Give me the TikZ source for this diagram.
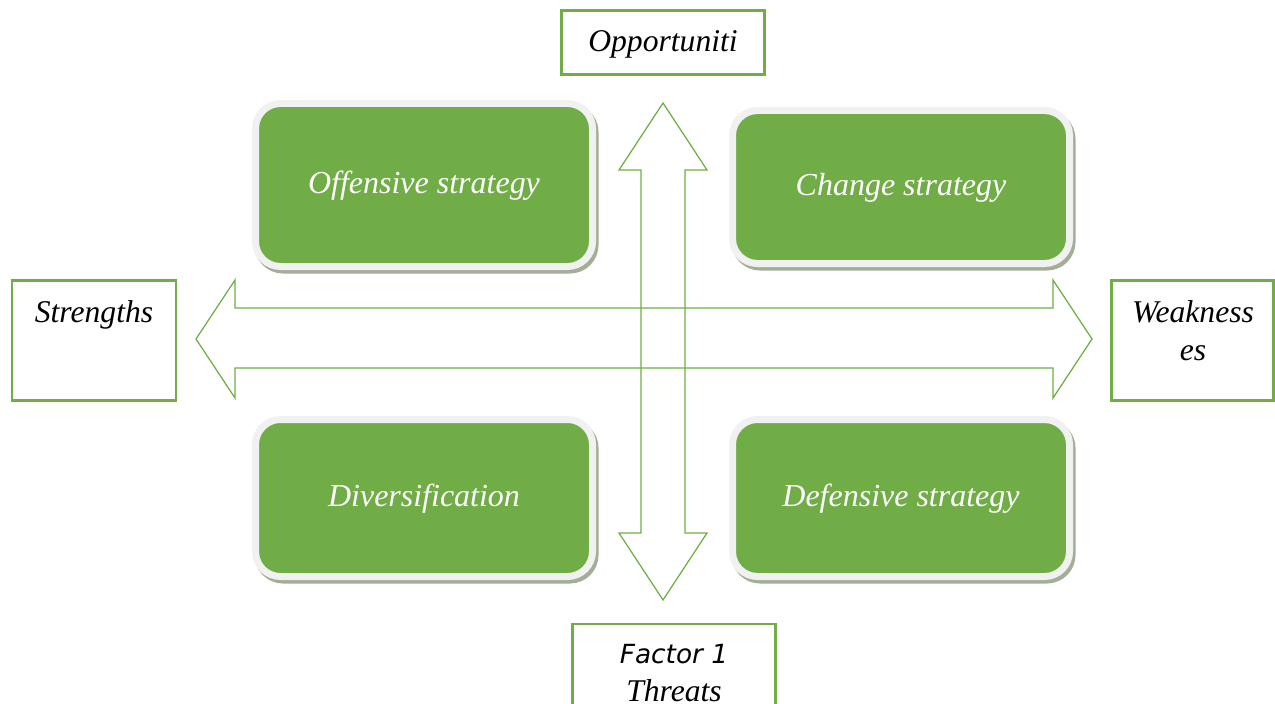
\documentclass[tikz,border=0pt]{standalone}
\usepackage{fontspec}
\setmainfont{Liberation Serif}
\setsansfont{DejaVu Sans}
\usetikzlibrary{positioning, shadows}

\definecolor{swotgreen}{HTML}{70AD47}
\definecolor{halogray}{HTML}{F1F1F1}
\definecolor{shadowgreen}{HTML}{A3AE98}

\begin{document}
\begin{tikzpicture}[
    x=0.2mm, y=-0.2mm,
    node distance=0.3cm,
    quadrant/.style={rectangle, rounded corners=5mm, fill=swotgreen, draw=halogray, line width=1.4mm, minimum width=6.74cm, text=white, text height=13pt, text depth=3pt, font=\fontsize{18.2}{22}\selectfont\itshape, drop shadow={shadow xshift=0.5mm, shadow yshift=-0.7mm, opacity=1, fill=shadowgreen, draw=shadowgreen, line width=1.4mm}},
    factor/.style={rectangle, draw=swotgreen, line width=0.45mm, fill=white},
    factortext/.style={align=center, font=\fontsize{18}{21.6}\selectfont\itshape, inner sep=0pt},
    blockarrow/.style={draw=swotgreen, line width=0.25mm, line join=miter},
]

\useasboundingbox (0,0) rectangle (1275,704);

% Horizontal axis: Strengths <-> Weaknesses
\draw[blockarrow] (196,339) -- (235,280) -- (235,308) -- (1053,308) -- (1053,280) -- (1092,339)
    -- (1053,398) -- (1053,368) -- (235,368) -- (235,398) -- cycle;

% Vertical axis: Opportunities <-> Threats
\draw[blockarrow] (663,103) -- (707,170) -- (685,170) -- (685,533) -- (707,533) -- (663,600)
    -- (619,533) -- (641,533) -- (641,170) -- (619,170) -- cycle;

% Strategy quadrants
\node[quadrant, minimum height=3.26cm] (offensive) at (424,185) {Offensive strategy};
\node[quadrant, minimum height=3.06cm] (change) at (901,187) {Change strategy};
\node[quadrant, minimum height=3.14cm] (diversify) at (424,498) {Diversification};
\node[quadrant, minimum height=3.14cm] (defensive) at (901,498) {Defensive strategy};

% Factor boxes
\node[factor, minimum width=4.06cm, minimum height=1.28cm] (opport) at (663,42.5) {};
\node[factortext, anchor=base] (opporttext) at (663,52) {Opportuniti};

\node[factor, minimum width=3.28cm, minimum height=2.40cm] (strengths) at (94,340.5) {};
\node[factortext, anchor=base] (strengthstext) at (94,322) {Strengths};

\node[factor, minimum width=3.24cm, minimum height=2.40cm] (weakness) at (1192.5,340.5) {};
\node[factortext] (weaknesstext) at (1193,331) {Weakness\\es};

\node[factor, minimum width=4.06cm, minimum height=2.72cm] (threats) at (674,692) {};
\node[factortext] (threatstext) at (674,673) {{\sffamily\fontsize{15}{21.6}\selectfont Factor 1}\\Threats};

\end{tikzpicture}
\end{document}
